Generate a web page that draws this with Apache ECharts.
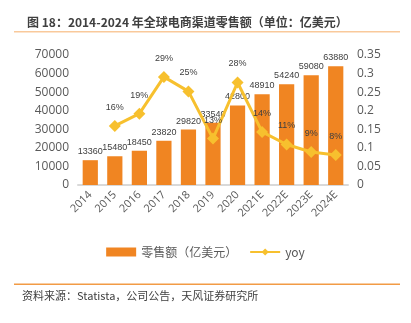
<!DOCTYPE html>
<html><head><meta charset="utf-8">
<script src="https://cdn.jsdelivr.net/npm/echarts@6/dist/echarts.min.js"></script>
<style>html,body{margin:0;padding:0;background:#fff}#c{width:411px;height:323px}</style>
</head><body><div id="c"></div>
<script>
var categories = ['2014','2015','2016','2017','2018','2019','2020','2021E','2022E','2023E','2024E'];
var sales = [13360,15480,18450,23820,29820,33540,42800,48910,54240,59080,63880];
var yoy = [null,0.159,0.192,0.291,0.252,0.125,0.276,0.143,0.109,0.089,0.081];
var leftTicks = [0,10000,20000,30000,40000,50000,60000,70000];
var rightTicks = [0,0.05,0.1,0.15,0.2,0.25,0.3,0.35];

var chart = echarts.init(document.getElementById('c'));
var axisFont = {color:'#595959', fontSize:12, fontFamily:'Open Sans'};
chart.setOption({
  animation:false,
  title:{text:'图 18：2014-2024 年全球电商渠道零售额（单位：亿美元）', left:22, top:11,
    textStyle:{fontSize:12, fontWeight:'bold', color:'#404040', fontFamily:'Noto Sans CJK SC'}},
  graphic:[
    {type:'rect', shape:{x:14,y:31,width:386,height:1.5}, style:{fill:'#F9C99B'}},
    {type:'rect', shape:{x:14,y:283.5,width:386,height:1.5}, style:{fill:'#F29B45'}},
    {type:'text', left:22, top:290, style:{text:'资料来源：Statista，公司公告，天风证券研究所', fontSize:11, fill:'#404040', fontFamily:'Noto Sans CJK SC'}}
  ],
  legend:{bottom:60, left:'center', itemGap:12, textStyle:{fontSize:12,color:'#595959',fontFamily:'Noto Sans CJK SC'},
    data:[{name:'零售额（亿美元）', icon:'rect'},{name:'yoy'}], itemWidth:30, itemHeight:9},
  grid:{left:78, right:63, top:55, bottom:138},
  xAxis:{type:'category', data:categories, axisTick:{show:false},
    axisLine:{lineStyle:{color:'#D9D9D9', width:2}},
    axisLabel:{rotate:45, interval:0, margin:8, fontSize:11, color:'#595959', fontFamily:'Open Sans'}},
  yAxis:[
    {type:'value', min:leftTicks[0], max:leftTicks[leftTicks.length-1], interval:leftTicks[1]-leftTicks[0], splitLine:{show:false},
      axisLabel:Object.assign({margin:9, formatter:function(v){return String(v);}}, axisFont)},
    {type:'value', min:rightTicks[0], max:rightTicks[rightTicks.length-1], interval:rightTicks[1]-rightTicks[0], splitLine:{show:false},
      axisLabel:Object.assign({margin:9, formatter:function(v){return String(+v.toFixed(2));}}, axisFont)}
  ],
  series:[
    {name:'零售额（亿美元）', type:'bar', data:sales, barCategoryGap:'38%', itemStyle:{color:'#F08522'},
      label:{show:true, position:'top', distance:4, fontSize:9, color:'#404040', fontFamily:'Liberation Sans'}},
    {name:'yoy', type:'line', yAxisIndex:1, data:yoy, symbol:'diamond', symbolSize:12, z:5,
      lineStyle:{color:'#F7C02E', width:3}, itemStyle:{color:'#F7C02E'},
      label:{show:true, position:'top', distance:8, fontSize:9, color:'#404040', fontFamily:'Liberation Sans',
        formatter:function(p){return Math.round(p.value*100)+'%';}}}
  ]
});
</script></body></html>
